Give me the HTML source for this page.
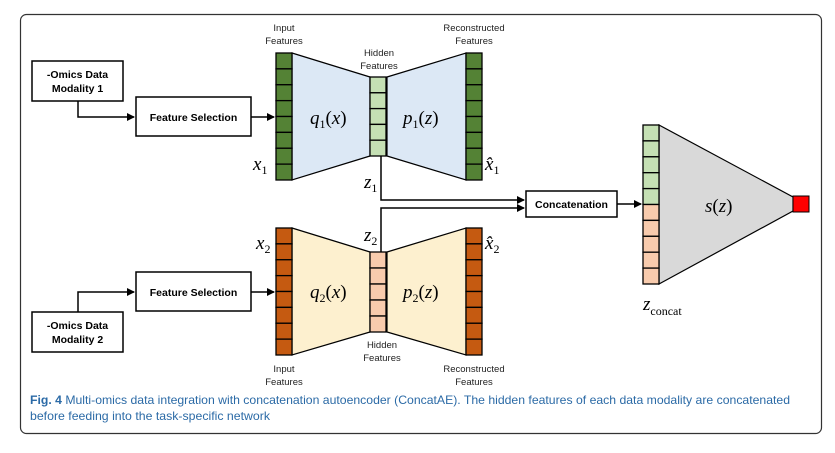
<!DOCTYPE html>
<html><head><meta charset="utf-8"><style>
body{margin:0;background:#fff;width:835px;height:453px;overflow:hidden}
svg{display:block}
.b{font-family:"Liberation Sans",Arial,sans-serif;font-weight:bold;font-size:10.5px;fill:#000}
.s{font-family:"Liberation Sans",Arial,sans-serif;font-size:9.5px;fill:#222}
.m{font-family:"Liberation Serif","Times New Roman",serif;font-style:italic;font-size:19px;fill:#000}
.sub{font-family:"Liberation Serif",serif;font-size:12px;font-style:normal}
.cap{font-family:"Liberation Sans",Arial,sans-serif;font-size:12px;fill:#2b6aa6}
</style></head><body>
<svg width="835" height="453" viewBox="0 0 835 453">
<defs><marker id="ar" markerWidth="8" markerHeight="8" refX="7" refY="4" orient="auto" markerUnits="userSpaceOnUse"><path d="M0,0 L8,4 L0,8 z" fill="#000"/></marker></defs>
<rect x="20.5" y="14.5" width="801" height="419" rx="6" fill="none" stroke="#333" stroke-width="1.2"/>

<g>
<rect x="32" y="61" width="91" height="40" fill="#fff" stroke="#000" stroke-width="1.5"/>
<text class="b" x="77.5" y="78" text-anchor="middle">-Omics Data</text>
<text class="b" x="77.5" y="92" text-anchor="middle">Modality 1</text>
<polyline points="78,101 78,117 134,117" fill="none" stroke="#000" stroke-width="1.5" marker-end="url(#ar)"/>
<rect x="136" y="97" width="115" height="39" fill="#fff" stroke="#000" stroke-width="1.5"/>
<text class="b" x="193.5" y="121" text-anchor="middle">Feature Selection</text>
<line x1="251" y1="117" x2="274" y2="117" stroke="#000" stroke-width="1.5" marker-end="url(#ar)"/>
<polygon points="292,53 370,77 370,156 292,180" fill="#dce8f5" stroke="#000" stroke-width="1.2"/>
<polygon points="387,77 466,53 466,180 387,156" fill="#dce8f5" stroke="#000" stroke-width="1.2"/>
<g id="in1"></g><g id="hid1"></g><g id="out1"></g>
<text class="s" x="284" y="31" text-anchor="middle">Input</text><text class="s" x="284" y="44" text-anchor="middle">Features</text>
<text class="s" x="379" y="56" text-anchor="middle">Hidden</text><text class="s" x="379" y="69" text-anchor="middle">Features</text>
<text class="s" x="474" y="31" text-anchor="middle">Reconstructed</text><text class="s" x="474" y="44" text-anchor="middle">Features</text>
<text class="m" x="310" y="124">q<tspan class="sub" dy="4">1</tspan><tspan dy="-4" font-style="normal">(</tspan>x<tspan font-style="normal">)</tspan></text>
<text class="m" x="403" y="124">p<tspan class="sub" dy="4">1</tspan><tspan dy="-4" font-style="normal">(</tspan>z<tspan font-style="normal">)</tspan></text>
<text class="m" x="253" y="170">x<tspan class="sub" dy="4">1</tspan></text>
<text class="m" x="364" y="188">z<tspan class="sub" dy="4">1</tspan></text>
<text class="m" x="485" y="170">x̂<tspan class="sub" dy="4">1</tspan></text>
</g>

<g>
<rect x="32" y="312" width="91" height="40" fill="#fff" stroke="#000" stroke-width="1.5"/>
<text class="b" x="77.5" y="329" text-anchor="middle">-Omics Data</text>
<text class="b" x="77.5" y="343" text-anchor="middle">Modality 2</text>
<polyline points="78,312 78,292 134,292" fill="none" stroke="#000" stroke-width="1.5" marker-end="url(#ar)"/>
<rect x="136" y="272" width="115" height="39" fill="#fff" stroke="#000" stroke-width="1.5"/>
<text class="b" x="193.5" y="296" text-anchor="middle">Feature Selection</text>
<line x1="251" y1="292" x2="274" y2="292" stroke="#000" stroke-width="1.5" marker-end="url(#ar)"/>
<polygon points="292,228 370,252 370,332 292,355" fill="#fdf0cf" stroke="#000" stroke-width="1.2"/>
<polygon points="387,252 466,228 466,355 387,332" fill="#fdf0cf" stroke="#000" stroke-width="1.2"/>
<g id="in2"></g><g id="hid2"></g><g id="out2"></g>
<text class="s" x="284" y="372" text-anchor="middle">Input</text><text class="s" x="284" y="385" text-anchor="middle">Features</text>
<text class="s" x="382" y="348" text-anchor="middle">Hidden</text><text class="s" x="382" y="361" text-anchor="middle">Features</text>
<text class="s" x="474" y="372" text-anchor="middle">Reconstructed</text><text class="s" x="474" y="385" text-anchor="middle">Features</text>
<text class="m" x="310" y="298">q<tspan class="sub" dy="4">2</tspan><tspan dy="-4" font-style="normal">(</tspan>x<tspan font-style="normal">)</tspan></text>
<text class="m" x="403" y="298">p<tspan class="sub" dy="4">2</tspan><tspan dy="-4" font-style="normal">(</tspan>z<tspan font-style="normal">)</tspan></text>
<text class="m" x="256" y="249">x<tspan class="sub" dy="4">2</tspan></text>
<text class="m" x="364" y="241">z<tspan class="sub" dy="4">2</tspan></text>
<text class="m" x="485" y="249">x̂<tspan class="sub" dy="4">2</tspan></text>
</g>

<polyline points="381,156 381,200 524,200" fill="none" stroke="#000" stroke-width="1.5" marker-end="url(#ar)"/>
<polyline points="381,252 381,208 524,208" fill="none" stroke="#000" stroke-width="1.5" marker-end="url(#ar)"/>
<rect x="526" y="191" width="91" height="26" fill="#fff" stroke="#000" stroke-width="1.5"/>
<text class="b" x="571.5" y="208" text-anchor="middle">Concatenation</text>
<line x1="617" y1="204" x2="641" y2="204" stroke="#000" stroke-width="1.5" marker-end="url(#ar)"/>
<polygon points="659,125 793,197 793,211 659,284" fill="#d9d9d9" stroke="#000" stroke-width="1.2"/>
<g id="cc"></g>
<rect x="793" y="196" width="16" height="16" fill="#ff0000" stroke="#000" stroke-width="1"/>
<text class="m" x="705" y="212">s<tspan font-style="normal">(</tspan>z<tspan font-style="normal">)</tspan></text>
<text class="m" x="643" y="310">z<tspan class="sub" dy="5" font-style="italic">concat</tspan></text>

<text class="cap" x="30" y="404" textLength="760" lengthAdjust="spacingAndGlyphs"><tspan font-weight="bold">Fig. 4</tspan> Multi-omics data integration with concatenation autoencoder (ConcatAE). The hidden features of each data modality are concatenated</text>
<text class="cap" x="30" y="420" textLength="240" lengthAdjust="spacingAndGlyphs">before feeding into the task-specific network</text>
</svg>
<script>
function col(id,x,y0,y1,n,colors,name){
  var g=document.getElementById(id),h=(y1-y0)/n;
  for(var i=0;i<n;i++){
    var r=document.createElementNS('http://www.w3.org/2000/svg','rect');
    r.setAttribute('x',x);r.setAttribute('y',y0+i*h);r.setAttribute('width',16);r.setAttribute('height',h);
    r.setAttribute('fill',colors[i]);r.setAttribute('stroke','#000');r.setAttribute('stroke-width','1.3');
    
    
    g.appendChild(r);
  }
}
function rep(c,n){var a=[];for(var i=0;i<n;i++)a.push(c);return a;}
var dg='#548235',lg='#c5e0b4',br='#c55a11',pc='#f8cbad';
col('in1',276,53,180,8,rep(dg,8),'feature-cell');
col('out1',466,53,180,8,rep(dg,8),'feature-cell');
col('hid1',370,77,156,5,rep(lg,5),'hidden-cell');
col('in2',276,228,355,8,rep(br,8),'feature-cell');
col('out2',466,228,355,8,rep(br,8),'feature-cell');
col('hid2',370,252,332,5,rep(pc,5),'hidden-cell');
col('cc',643,125,284,10,rep(lg,5).concat(rep(pc,5)),'concat-cell');
</script>
</body></html>
